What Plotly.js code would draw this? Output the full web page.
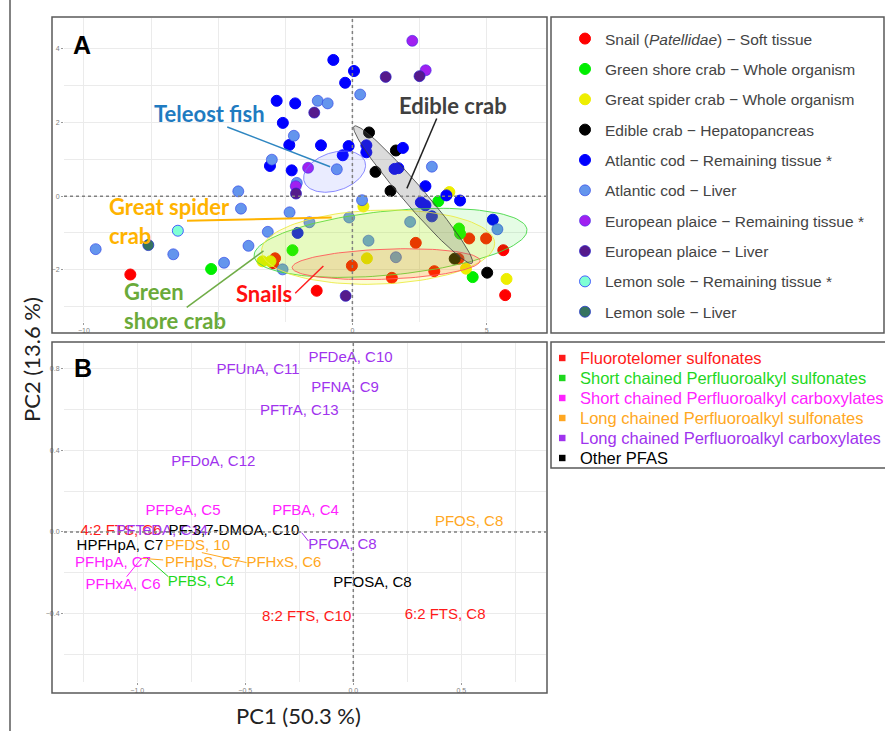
<!DOCTYPE html>
<html><head><meta charset="utf-8">
<script src="https://cdn.plot.ly/plotly-3.0.1.min.js"></script>
<style>html,body{margin:0;padding:0;background:#fff}#chart{width:885px;height:731px}</style>
</head><body><div id="chart"></div>
<script>
// ===== Panel A : PCA scores =====
const groupNames = [
  'Snail (<i>Patellidae</i>) \u2212 Soft tissue',
  'Green shore crab \u2212 Whole organism',
  'Great spider crab \u2212 Whole organism',
  'Edible crab \u2212 Hepatopancreas',
  'Atlantic cod \u2212 Remaining tissue *',
  'Atlantic cod \u2212 Liver',
  'European plaice \u2212 Remaining tissue *',
  'European plaice \u2212 Liver',
  'Lemon sole \u2212 Remaining tissue *',
  'Lemon sole \u2212 Liver'
];
const groupColors = ['#FF0000','#00EE00','#EEEE00','#000000','#0000FF','#6495ED','#A020F0','#551A8B','#7FFFD4','#35735F'];
const groupEdges  = ['#FF0000','#00EE00','#EEEE00','#000000','#0000FF','rgba(40,60,230,0.6)','rgba(60,40,230,0.6)','rgba(40,30,200,0.7)','rgba(40,60,255,0.8)','rgba(40,60,200,0.8)'];

const snailX = [-8.27,-2.88,-2.95,-1.33,-0.02,1.47,2.36,3.05,3.95,4.35,4.98,5.62,5.69];
const snailY = [-2.13,-1.69,-1.82,-2.57,-1.89,-2.22,-1.27,-2.04,-1.70,-1.15,-1.15,-1.47,-2.69];
const greenCrabX = [-5.26,-2.23,3.20,3.97,4.01,4.48];
const greenCrabY = [-1.98,-1.47,-0.14,-0.88,-1.02,-2.20];
const spiderCrabX = [-3.35,-3.05,0.41,0.54,3.61,4.23,5.74];
const spiderCrabY = [-1.77,-1.77,-0.28,-1.69,0.11,-1.97,-2.25];
const edibleCrabX = [0.62,1.62,0.86,1.42,3.81,5.02];
const edibleCrabY = [1.73,1.24,0.66,0.14,-1.70,-2.08];
const codTissueX = [-0.71,0.06,-0.27,-2.82,-2.13,-2.59,-2.35,-1.17,-0.14,-0.36,-3.07,-2.26,0.52,0.52,1.88,1.57,1.71,2.72,3.50,4.01,2.55,2.72,2.96,5.23,-2.04];
const codTissueY = [3.70,3.40,3.08,2.59,2.52,1.99,1.39,1.38,1.36,1.11,0.82,0.70,1.38,1.19,1.31,0.74,0.76,0.27,0.02,-0.12,-0.17,-0.25,-0.55,-0.64,-1.00];
const codLiverX = [-1.29,-0.92,0.29,-2.18,-0.58,2.96,-3.00,-4.25,-4.15,-2.34,-1.60,-0.12,0.36,-3.15,-3.87,-4.78,-6.67,-9.56,-2.60,0.60,1.62,2.15,5.40,-2.07];
const codLiverY = [2.59,2.52,2.76,1.64,0.73,0.80,0.99,0.13,-0.34,-0.44,-0.71,-0.58,-0.11,-0.97,-1.35,-1.81,-1.58,-1.44,-1.99,-1.21,-1.66,-0.70,-0.90,0.36];
const plaiceTissueX = [2.23,2.73,-1.65,-2.11];
const plaiceTissueY = [4.22,3.42,0.77,0.27];
const plaiceLiverX = [1.24,2.50,-1.42,-2.10,-0.25];
const plaiceLiverY = [3.24,3.26,2.27,0.07,-2.71];
const soleTissueX = [-6.50];
const soleTissueY = [-0.94];
const soleLiverX = [-7.60];
const soleLiverY = [-1.33];

const groupXs = [snailX,greenCrabX,spiderCrabX,edibleCrabX,codTissueX,codLiverX,plaiceTissueX,plaiceLiverX,soleTissueX,soleLiverX];
const groupYs = [snailY,greenCrabY,spiderCrabY,edibleCrabY,codTissueY,codLiverY,plaiceTissueY,plaiceLiverY,soleTissueY,soleLiverY];

// group ellipses: centre and two conjugate half-axes (data units)
const ellNames = ['Green shore crab','Great spider crab','Snails','Edible crab','Teleost fish'];
const ellCX = [1.42, 0.957, 1.255, 2.26, -0.663];
const ellCY = [-1.27, -1.386, -1.848, 0.04, 0.666];
const ellUX = [5.08, 4.34, 3.50, 2.197, 1.132];
const ellUY = [0.363, 0.109, 0.095, -1.861, 0.269];
const ellVX = [0.115, 0.047, 0.021, 0.296, 0.220];
const ellVY = [-0.866, -1.005, -0.408, 0.186, -0.492];
const ellFill = ['rgba(0,230,0,0.10)','rgba(240,240,0,0.16)','rgba(255,60,0,0.13)','rgba(110,110,110,0.25)','rgba(90,110,255,0.13)'];
const ellLine = ['rgba(70,215,70,0.9)','rgba(235,235,70,0.9)','rgba(255,90,90,0.9)','rgba(60,60,60,0.8)','rgba(110,110,255,0.8)'];

// ===== Panel B : PCA loadings (label positions) =====
const catNames = ['Fluorotelomer sulfonates','Short chained Perfluoroalkyl sulfonates','Short chained Perfluoroalkyl carboxylates','Long chained Perfluoroalkyl sulfonates','Long chained Perfluoroalkyl carboxylates','Other PFAS'];
const catColors = ['#FF1A1A','#1ED81E','#FF22FF','#FFA722','#A033EE','#000000'];
const compLabels = ['PFUnA, C11','PFDeA, C10','PFNA, C9','PFTrA, C13','PFDoA, C12','PFPeA, C5','PFBA, C4','PFOS, C8','4:2 FTS, C6','PFTeDA, C14','PF-3,7-DMOA, C10','HPFHpA, C7','PFDS, 10','PFOA, C8','PFHpS, C7','PFHxS, C6','PFHpA, C7','PFHxA, C6','PFBS, C4','PFOSA, C8','8:2 FTS, C10','6:2 FTS, C8'];
const compX = [-0.441,-0.013,-0.038,-0.250,-0.648,-0.788,-0.221,0.536,-1.075,-0.885,-0.552,-1.080,-0.721,-0.050,-0.696,-0.321,-1.112,-1.066,-0.705,0.089,-0.216,0.425];
const compY = [0.794,0.853,0.706,0.593,0.343,0.103,0.103,0.050,0.005,0.005,0.005,-0.069,-0.069,-0.064,-0.152,-0.152,-0.152,-0.260,-0.245,-0.250,-0.417,-0.407];
const compCat = [4,4,4,4,4,2,2,3,0,4,5,5,3,4,3,3,2,2,1,5,0,0];
// label-to-loading connector segments: compound, loading point, label end
const segComp = ['PFOA, C8','PFHxS, C6','PFHpS, C7','PFBS, C4','PFHxA, C6'];
const segPointX = [-0.239,-0.701,-0.980,-0.956,-0.980];
const segPointY = [-0.003,-0.101,-0.129,-0.126,-0.129];
const segLabelX = [-0.208,-0.494,-0.880,-0.856,-1.049];
const segLabelY = [-0.044,-0.150,-0.137,-0.219,-0.219];

// ---------------- build ----------------
const W = 885, H = 731;
const px = v => v / W, py = v => 1 - v / H;
const traces = [];

groupNames.forEach((n, i) => {
  traces.push({
    type: 'scatter', mode: 'markers', x: groupXs[i], y: groupYs[i], xaxis: 'x', yaxis: 'y',
    name: n, legend: 'legend', legendgroup: 'g' + i,
    marker: { size: 11, color: groupColors[i], line: { width: 1, color: groupEdges[i] } },
    hoverinfo: 'skip'
  });
});

ellNames.forEach((n, k) => {
  const xs = [], ys = [];
  for (let i = 0; i <= 120; i++) {
    const t = 2 * Math.PI * i / 120;
    xs.push(ellCX[k] + ellUX[k] * Math.cos(t) + ellVX[k] * Math.sin(t));
    ys.push(ellCY[k] + ellUY[k] * Math.cos(t) + ellVY[k] * Math.sin(t));
  }
  traces.push({
    type: 'scatter', mode: 'lines', x: xs, y: ys, xaxis: 'x', yaxis: 'y', fill: 'toself',
    fillcolor: ellFill[k], line: { color: ellLine[k], width: 1 }, showlegend: false, hoverinfo: 'skip', name: n
  });
});

segComp.forEach((c, s) => {
  const ci = compCat[compLabels.indexOf(c)];
  traces.push({
    type: 'scatter', mode: 'lines', xaxis: 'x2', yaxis: 'y2',
    x: [segPointX[s], segLabelX[s]], y: [segPointY[s], segLabelY[s]],
    line: { color: catColors[ci], width: 1 }, showlegend: false, hoverinfo: 'skip'
  });
});

catNames.forEach((c, ci) => {
  const idx = compCat.map((v, i) => v === ci ? i : -1).filter(i => i >= 0);
  traces.push({
    type: 'scatter', mode: 'text', xaxis: 'x2', yaxis: 'y2',
    x: idx.map(i => compX[i]), y: idx.map(i => compY[i]), text: idx.map(i => compLabels[i]),
    textposition: 'middle center', cliponaxis: false,
    textfont: { family: 'Liberation Sans, Arial, sans-serif', size: 15, color: catColors[ci] },
    showlegend: false, hoverinfo: 'skip', name: c
  });
});

const tickFont = { family: 'Liberation Sans, Arial, sans-serif', size: 7, color: '#808080' };
const gridC = '#ebebeb';
function ax(extra) {
  return Object.assign({
    showgrid: true, gridcolor: gridC, gridwidth: 1, zeroline: false, showline: false,
    ticks: 'outside', ticklen: 2, tickwidth: 1, tickcolor: '#9a9a9a', tickfont: tickFont, fixedrange: true
  }, extra);
}

const shapes = [];
// zero reference lines
shapes.push({ type: 'line', xref: 'x', yref: 'y domain', x0: 0, x1: 0, y0: 0, y1: 1, line: { color: '#808080', width: 1.5, dash: 'dot' } });
shapes.push({ type: 'line', xref: 'x domain', yref: 'y', x0: 0, x1: 1, y0: 0, y1: 0, line: { color: '#808080', width: 1.5, dash: 'dot' } });
shapes.push({ type: 'line', xref: 'x2', yref: 'y2 domain', x0: 0, x1: 0, y0: 0, y1: 1, line: { color: '#808080', width: 1.5, dash: 'dot' } });
shapes.push({ type: 'line', xref: 'x2 domain', yref: 'y2', x0: 0, x1: 1, y0: 0, y1: 0, line: { color: '#808080', width: 1.5, dash: 'dot' } });
// frames
const frames = [[52, 17, 547, 333], [551, 17, 884, 333], [52, 342, 547, 693], [551, 342, 886, 468]];
frames.forEach(f => shapes.push({ type: 'rect', xref: 'paper', yref: 'paper', x0: px(f[0]), x1: px(f[2]), y0: py(f[3]), y1: py(f[1]), line: { color: '#5a5a5a', width: 1.5 } }));
shapes.push({ type: 'line', xref: 'paper', yref: 'paper', x0: px(10), x1: px(10), y0: 0, y1: 1, line: { color: '#5a5a5a', width: 1.5 } });

// call-out pointer lines (panel A)
const pointers = [
  [-4.66, 1.88, -0.83, 0.80, '#2E86C1', 1.5],
  [3.14, 2.11, 2.03, 0.21, '#222222', 1.5],
  [-6.16, -0.67, -0.77, -0.58, '#FFB300', 2],
  [-6.17, -3.02, -3.31, -1.49, '#70AD47', 1.5],
  [-2.13, -2.64, -1.08, -1.90, '#FF2020', 1.5]
];
pointers.forEach(p => shapes.push({ type: 'line', xref: 'x', yref: 'y', x0: p[0], y0: p[1], x1: p[2], y1: p[3], line: { color: p[4], width: p[5] } }));

// legend B keys (squares)
catNames.forEach((c, ci) => {
  const yc = 358 + 20 * ci;
  shapes.push({ type: 'rect', xref: 'paper', yref: 'paper', x0: px(559), x1: px(565.5), y0: py(yc + 3.2), y1: py(yc - 3.2),
                fillcolor: catColors[ci], line: { width: 0 } });
});

const callFont = (c) => ({ family: 'Lato, Open Sans, sans-serif', size: 22, color: c });
const ann = [
  { text: '<b>A</b>', x: px(82), y: py(45), font: { family: 'Liberation Sans, Arial', size: 25, color: '#000' } },
  { text: '<b>B</b>', x: px(82.5), y: py(368), font: { family: 'Liberation Sans, Arial', size: 25, color: '#000' } },
  { text: '<b>Teleost fish</b>', x: px(209), y: py(114), font: callFont('#1F7BC1') },
  { text: '<b>Edible crab</b>', x: px(453), y: py(106), font: callFont('#404040') },
  { text: '<b>Great spider<br>crab</b>', x: px(107), y: py(221), xanchor: 'left', align: 'left', font: callFont('#FFB300') },
  { text: '<b>Green<br>shore crab</b>', x: px(122), y: py(306), xanchor: 'left', align: 'left', font: callFont('#6AAA3A') },
  { text: '<b>Snails</b>', x: px(264), y: py(293), font: callFont('#FF1010') },
  { text: 'PC2 (13.6 %)', x: px(31), y: py(360), textangle: -90, font: { family: 'Lato, Open Sans, sans-serif', size: 22, color: '#222' } },
  { text: 'PC1 (50.3 %)', x: px(298), y: py(715), font: { family: 'Lato, Open Sans, sans-serif', size: 22, color: '#222' } }
].map(a => Object.assign({ xref: 'paper', yref: 'paper', showarrow: false, xanchor: 'center', yanchor: 'middle' }, a));

// legend B texts
catNames.forEach((c, ci) => {
  ann.push({ text: c, xref: 'paper', yref: 'paper', x: px(578), y: py(358 + 20 * ci), xanchor: 'left', yanchor: 'middle', showarrow: false,
             font: { family: 'Liberation Sans, Arial, sans-serif', size: 16.5, color: catColors[ci] } });
});

const layout = {
  width: W, height: H, margin: { l: 0, r: 0, t: 0, b: 0 },
  paper_bgcolor: '#fff', plot_bgcolor: '#fff',
  font: { family: 'Liberation Sans, Arial, sans-serif' },
  xaxis: ax({ domain: [px(64), px(546)], range: [-10.74, 7.21], anchor: 'y', tick0: 0, dtick: 5, labelalias: { '\u22125': ' ' },
              minor: { tick0: 0, dtick: 2.5, showgrid: true, gridcolor: gridC, gridwidth: 1, ticks: '' } }),
  yaxis: ax({ domain: [py(322), py(18)], range: [-3.42, 4.84], anchor: 'x', tick0: 0, dtick: 2,
              minor: { tick0: 0, dtick: 1, showgrid: true, gridcolor: gridC, gridwidth: 1, ticks: '' } }),
  xaxis2: ax({ domain: [px(64), px(546)], range: [-1.339, 0.892], anchor: 'y2', tick0: 0, dtick: 0.5, tickformat: '.1f',
              minor: { tick0: 0, dtick: 0.25, showgrid: true, gridcolor: gridC, gridwidth: 1, ticks: '' } }),
  yaxis2: ax({ domain: [py(682), py(343)], range: [-0.735, 0.926], anchor: 'x2', tick0: 0, dtick: 0.4, tickformat: '.1f',
              minor: { tick0: 0, dtick: 0.2, showgrid: true, gridcolor: gridC, gridwidth: 1, ticks: '' } }),
  legend: { x: px(565), y: py(22), xanchor: 'left', yanchor: 'top', bgcolor: 'rgba(0,0,0,0)', borderwidth: 0,
            font: { family: 'Liberation Sans, Arial, sans-serif', size: 15.5, color: '#444' }, tracegroupgap: 7.2, traceorder: 'grouped' },
  shapes: shapes, annotations: ann, showlegend: true
};

Plotly.newPlot('chart', traces, layout, { staticPlot: true, displayModeBar: false });
</script>
</body></html>
